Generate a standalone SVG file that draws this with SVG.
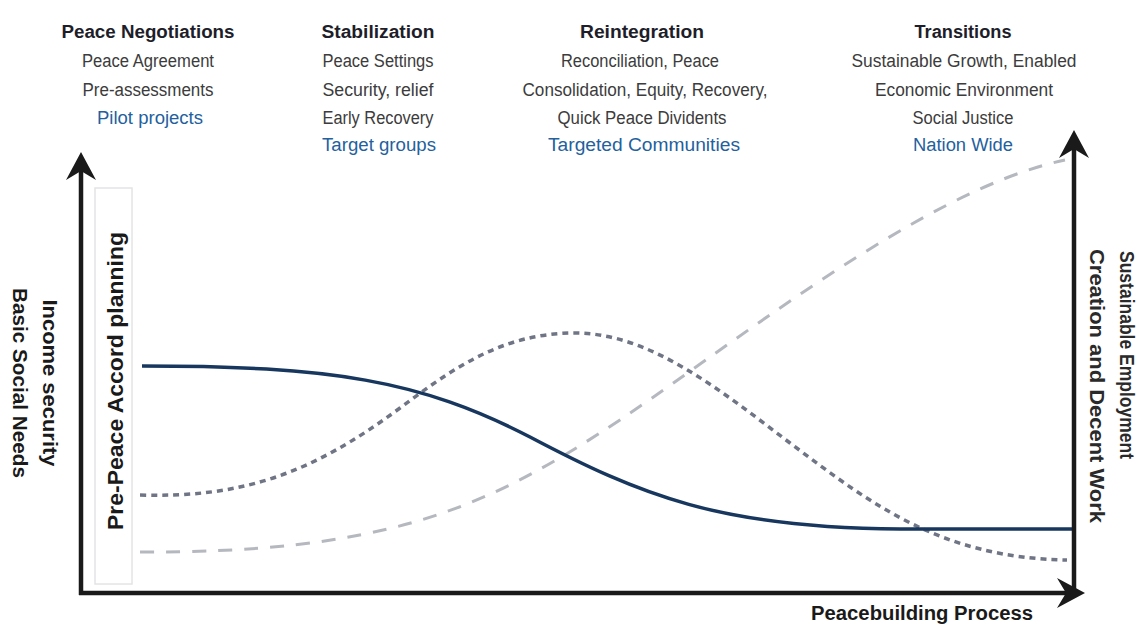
<svg xmlns="http://www.w3.org/2000/svg" width="1137" height="628" viewBox="0 0 1137 628">
<defs>
<style>
.t{font-family:"Liberation Sans",Arial,sans-serif;text-anchor:middle;}
.h{font-size:18px;font-weight:bold;fill:#1e1e2a;}
.r{font-size:18px;fill:#3c3c3c;}
.b{font-size:18px;fill:#245f9e;}
.lab{font-size:20px;font-weight:bold;fill:#1a1a1a;}
.labr{font-size:20px;font-weight:bold;fill:#2a2a2a;text-anchor:start;}
.ax{stroke:#1a1a1a;stroke-width:4.5;fill:none;marker-end:url(#arr);}
.solid{stroke:#17375e;stroke-width:3.5;fill:none;}
.dot{stroke:#6f7585;stroke-width:3.5;fill:none;stroke-dasharray:6 5;}
.dash{stroke:#b5b8bf;stroke-width:3;fill:none;stroke-dasharray:14 12;}
</style>
<marker id="arr" viewBox="-30 -16 32 32" markerWidth="32" markerHeight="32" refX="-12" refY="0" orient="auto" markerUnits="userSpaceOnUse">
<path d="M0,0 L-28,-15 L-19,0 L-28,15 Z" fill="#1a1a1a"/>
</marker>
</defs>
<rect width="1137" height="628" fill="#ffffff"/>

<g id="col-peace-negotiations" class="t">
<text class="h" x="148" y="38" textLength="173" lengthAdjust="spacingAndGlyphs">Peace Negotiations</text>
<text class="r" x="148" y="67" textLength="132" lengthAdjust="spacingAndGlyphs">Peace Agreement</text>
<text class="r" x="148" y="96" textLength="131" lengthAdjust="spacingAndGlyphs">Pre-assessments</text>
<text class="b" x="150" y="124" textLength="106" lengthAdjust="spacingAndGlyphs">Pilot projects</text>
</g>

<g id="col-stabilization" class="t">
<text class="h" x="378" y="38" textLength="113" lengthAdjust="spacingAndGlyphs">Stabilization</text>
<text class="r" x="378" y="67" textLength="111" lengthAdjust="spacingAndGlyphs">Peace Settings</text>
<text class="r" x="378" y="96" textLength="111" lengthAdjust="spacingAndGlyphs">Security, relief</text>
<text class="r" x="378" y="124" textLength="111" lengthAdjust="spacingAndGlyphs">Early Recovery</text>
<text class="b" x="379" y="151" textLength="114" lengthAdjust="spacingAndGlyphs">Target groups</text>
</g>

<g id="col-reintegration" class="t">
<text class="h" x="642" y="38" textLength="124" lengthAdjust="spacingAndGlyphs">Reintegration</text>
<text class="r" x="640" y="67" textLength="158" lengthAdjust="spacingAndGlyphs">Reconciliation, Peace</text>
<text class="r" x="645" y="96" textLength="245" lengthAdjust="spacingAndGlyphs">Consolidation, Equity, Recovery,</text>
<text class="r" x="642" y="124" textLength="169" lengthAdjust="spacingAndGlyphs">Quick Peace Dividents</text>
<text class="b" x="644" y="151" textLength="192" lengthAdjust="spacingAndGlyphs">Targeted Communities</text>
</g>

<g id="col-transitions" class="t">
<text class="h" x="963" y="38" textLength="97" lengthAdjust="spacingAndGlyphs">Transitions</text>
<text class="r" x="964" y="67" textLength="225" lengthAdjust="spacingAndGlyphs">Sustainable Growth, Enabled</text>
<text class="r" x="964" y="96" textLength="178" lengthAdjust="spacingAndGlyphs">Economic Environment</text>
<text class="r" x="963" y="124" textLength="101" lengthAdjust="spacingAndGlyphs">Social Justice</text>
<text class="b" x="963" y="151" textLength="100" lengthAdjust="spacingAndGlyphs">Nation Wide</text>
</g>

<g id="pre-peace-box">
<rect x="95" y="188" width="37" height="396" fill="none" stroke="#e4e4e6" stroke-width="1.5"/>
<text class="t lab" style="font-size:22px" transform="translate(123,381) rotate(-90)" textLength="298" lengthAdjust="spacingAndGlyphs">Pre-Peace Accord planning</text>
</g>

<g id="left-axis-label" class="t">
<text class="lab" transform="translate(43,383) rotate(90)" textLength="167" lengthAdjust="spacingAndGlyphs">Income security</text>
<text class="lab" transform="translate(13,383) rotate(90)" textLength="190" lengthAdjust="spacingAndGlyphs">Basic Social Needs</text>
</g>

<g id="right-axis-label" class="t">
<text class="labr" transform="translate(1120,251) rotate(90)" textLength="208" lengthAdjust="spacingAndGlyphs">Sustainable Employment</text>
<text class="labr" transform="translate(1090,249) rotate(90)" textLength="274" lengthAdjust="spacingAndGlyphs">Creation and Decent Work</text>
</g>

<g id="x-axis-label" class="t">
<text class="lab" x="922" y="620" textLength="222" lengthAdjust="spacingAndGlyphs">Peacebuilding Process</text>
</g>

<g id="curves">
<path class="dash" d="M140,552 C380,553 480,510 600,433 C720,356 920,190 1065,160"/>
<path class="dot" d="M140,495 C240,498 310,475 400,408 C450,371 500,333 575,333 C650,333 720,390 790,443 C870,503 940,558 1067,560"/>
<path class="solid" d="M142,366 C330,366 420,380 530,437 C640,495 720,528 900,529 L1072,529"/>
</g>

<g id="connectors">
<line class="ax" x1="81" y1="595" x2="81" y2="164"/>
<line class="ax" x1="1074" y1="595" x2="1074" y2="142"/>
<line class="ax" x1="79" y1="593" x2="1073" y2="593"/>
</g>
</svg>
